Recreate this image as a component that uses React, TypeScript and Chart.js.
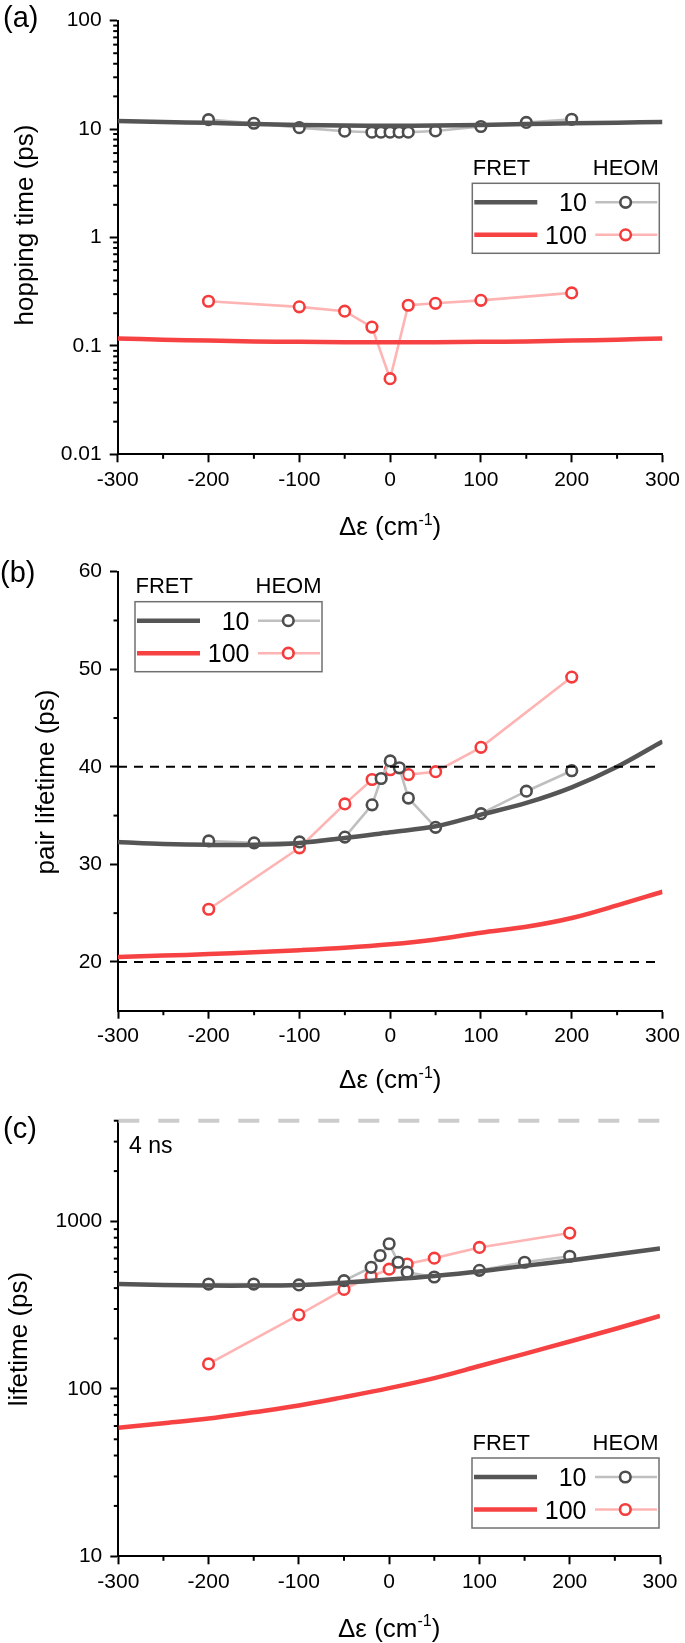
import React, { useEffect, useRef } from 'react';
import { Chart, registerables } from 'chart.js';

Chart.register(...registerables);

const W = 685;
const H = 1643;
const FONT = '"Liberation Sans", Arial, sans-serif';

// ---------- shared x positions ----------
const fretX = [-300, -250, -200, -150, -100, -50, 0, 50, 100, 150, 200, 250, 300];
const heom10X = [-200, -150, -100, -50, -20, -10, 0, 10, 20, 50, 100, 150, 200];
const heom100X = [-200, -100, -50, -20, 0, 20, 50, 100, 200];
const xMajorTicks = [-300, -200, -100, 0, 100, 200, 300];
const xMinorTicks = [-250, -150, -50, 50, 150, 250];

// ---------- panel (a): hopping time ----------
const aFret10 = [11.85, 11.6, 11.4, 11.1, 10.9, 10.75, 10.7, 10.75, 10.9, 11.1, 11.3, 11.45, 11.6];
const aFret100 = [0.117, 0.114, 0.112, 0.11, 0.109, 0.108, 0.108, 0.108, 0.109, 0.11, 0.112, 0.114, 0.117];
const aHeom10 = [12.2, 11.3, 10.3, 9.55, 9.35, 9.35, 9.35, 9.35, 9.35, 9.6, 10.55, 11.5, 12.3];
const aHeom100 = [0.258, 0.229, 0.209, 0.149, 0.0498, 0.237, 0.247, 0.263, 0.308];
const aYMajor = [0.01, 0.1, 1, 10, 100];
const aYMinor = [
  0.02, 0.03, 0.04, 0.05, 0.06, 0.07, 0.08, 0.09,
  0.2, 0.3, 0.4, 0.5, 0.6, 0.7, 0.8, 0.9,
  2, 3, 4, 5, 6, 7, 8, 9,
  20, 30, 40, 50, 60, 70, 80, 90,
];

// ---------- panel (b): pair lifetime ----------
const bFret10 = [32.3, 32.1, 32.0, 32.0, 32.2, 32.7, 33.3, 33.9, 35.1, 36.3, 37.9, 40.0, 42.6];
const bFret100 = [20.5, 20.65, 20.8, 21.0, 21.2, 21.45, 21.8, 22.3, 23.0, 23.6, 24.5, 25.8, 27.2];
const bHeom10 = [32.4, 32.2, 32.3, 32.8, 36.1, 38.8, 40.6, 39.9, 36.8, 33.8, 35.2, 37.5, 39.6];
const bHeom100 = [25.4, 31.7, 36.2, 38.7, 39.7, 39.2, 39.5, 42.0, 49.2];
const bRefX = [-300, 295];
const bRef40 = [40, 40];
const bRef20 = [20, 20];
const bYMajor = [20, 30, 40, 50, 60];
const bYMinor = [25, 35, 45, 55];

// ---------- panel (c): lifetime ----------
const cFret10 = [423, 418, 414, 414, 418, 431, 450, 473, 503, 543, 585, 635, 689];
const cFret100 = [58.6, 62.3, 66.5, 72.5, 79.5, 89.3, 101, 116, 137, 162, 192, 228, 273];
const cHeom10 = [423, 423, 418, 443, 532, 626, 736, 571, 498, 466, 511, 571, 620];
const cHeom100 = [141, 277, 393, 471, 519, 557, 604, 700, 853];
const cRefX = [-300, 300];
const cRef4ns = [4000, 4000];
const cYMajor = [10, 100, 1000];
const cYMinor = [20, 30, 40, 50, 60, 70, 80, 90, 200, 300, 400, 500, 600, 700, 800, 900, 2000, 3000, 4000];

// ---------- colours ----------
const C_FRET10 = '#555555';
const C_FRET100 = '#f64242';
const C_HEOM10_LINE = '#bfbfbf';
const C_HEOM10_MARK = '#4d4d4d';
const C_HEOM100_LINE = '#ffb4b4';
const C_HEOM100_MARK = '#f43c3c';

const pts = (xs: number[], ys: number[]) => xs.map((x, i) => ({ x, y: ys[i] }));

const fretDs = (ys: number[], color: string) => ({
  type: 'line',
  data: pts(fretX, ys),
  borderColor: color,
  borderWidth: 4.5,
  pointRadius: 0,
  pointHoverRadius: 0,
  tension: 0.35,
  fill: false,
});

const heomDs = (xs: number[], ys: number[], line: string, mark: string) => ({
  type: 'line',
  data: pts(xs, ys),
  borderColor: line,
  borderWidth: 2.6,
  pointRadius: 5.3,
  pointHoverRadius: 5.3,
  pointBorderWidth: 2.6,
  pointBorderColor: mark,
  pointBackgroundColor: '#ffffff',
  fill: false,
});

const refDs = (xs: number[], ys: number[], color: string, width: number, dash: number[]) => ({
  type: 'line',
  data: pts(xs, ys),
  borderColor: color,
  borderWidth: width,
  borderDash: dash,
  pointRadius: 0,
  pointHoverRadius: 0,
  fill: false,
  clip: false,
});

type Panel = {
  key: string;
  area: { l: number; r: number; t: number; b: number };
  yType: 'logarithmic' | 'linear';
  yMin: number;
  yMax: number;
  yMajor: number[];
  yMinor: number[];
  yTitle: string;
  yTitleX: number;
  yTitleY: number;
  xTitleBase: number;
  label: string;
  labelX: number;
  labelBase: number;
  legendL: number;
  legendT: number;
  note?: { text: string; x: number; y: number };
  datasets: any[];
};

const panels: Panel[] = [
  {
    key: 'a',
    area: { l: 117.7, r: 664, t: 15, b: 454.3 },
    yType: 'logarithmic',
    yMin: 0.01,
    yMax: 100,
    yMajor: aYMajor,
    yMinor: aYMinor,
    yTitle: 'hopping time (ps)',
    yTitleX: 33,
    yTitleY: 225,
    xTitleBase: 535,
    label: '(a)',
    labelX: 3,
    labelBase: 26.7,
    legendL: 472.3,
    legendT: 183.3,
    datasets: [
      fretDs(aFret10, C_FRET10),
      fretDs(aFret100, C_FRET100),
      heomDs(heom10X, aHeom10, C_HEOM10_LINE, C_HEOM10_MARK),
      heomDs(heom100X, aHeom100, C_HEOM100_LINE, C_HEOM100_MARK),
    ],
  },
  {
    key: 'b',
    area: { l: 118, r: 662.7, t: 571.7, b: 1010.7 },
    yType: 'linear',
    yMin: 15,
    yMax: 60,
    yMajor: bYMajor,
    yMinor: bYMinor,
    yTitle: 'pair lifetime (ps)',
    yTitleX: 54,
    yTitleY: 782,
    xTitleBase: 1088,
    label: '(b)',
    labelX: 0,
    labelBase: 581.7,
    legendL: 135,
    legendT: 601.7,
    datasets: [
      refDs(bRefX, bRef40, '#000000', 2, [9, 7]),
      refDs(bRefX, bRef20, '#000000', 2, [9, 7]),
      fretDs(bFret10, C_FRET10),
      fretDs(bFret100, C_FRET100),
      heomDs(heom10X, bHeom10, C_HEOM10_LINE, C_HEOM10_MARK),
      heomDs(heom100X, bHeom100, C_HEOM100_LINE, C_HEOM100_MARK),
    ],
  },
  {
    key: 'c',
    area: { l: 118.3, r: 660, t: 1120.7, b: 1556.3 },
    yType: 'logarithmic',
    yMin: 10,
    yMax: 4000,
    yMajor: cYMajor,
    yMinor: cYMinor,
    yTitle: 'lifetime (ps)',
    yTitleX: 27,
    yTitleY: 1339,
    xTitleBase: 1636.5,
    label: '(c)',
    labelX: 3,
    labelBase: 1138,
    legendL: 472,
    legendT: 1458,
    note: { text: '4 ns', x: 129, y: 1153 },
    datasets: [
      refDs(cRefX, cRef4ns, '#cccccc', 4, [21, 19]),
      fretDs(cFret10, C_FRET10),
      fretDs(cFret100, C_FRET100),
      heomDs(heom10X, cHeom10, C_HEOM10_LINE, C_HEOM10_MARK),
      heomDs(heom100X, cHeom100, C_HEOM100_LINE, C_HEOM100_MARK),
    ],
  },
];

const legendRows = [
  { num: '10', fret: C_FRET10, line: C_HEOM10_LINE, mark: C_HEOM10_MARK },
  { num: '100', fret: C_FRET100, line: C_HEOM100_LINE, mark: C_HEOM100_MARK },
];

function drawLegend(ctx: CanvasRenderingContext2D, L: number, T: number) {
  const bw = 187;
  const bh = 70;
  ctx.save();
  ctx.fillStyle = '#ffffff';
  ctx.fillRect(L, T, bw, bh);
  ctx.strokeStyle = '#707070';
  ctx.lineWidth = 1.5;
  ctx.strokeRect(L, T, bw, bh);

  ctx.fillStyle = '#000';
  ctx.font = `22px ${FONT}`;
  ctx.textBaseline = 'alphabetic';
  ctx.textAlign = 'left';
  ctx.fillText('FRET', L + 0.5, T - 8.5);
  ctx.textAlign = 'right';
  ctx.fillText('HEOM', L + 186.5, T - 8.5);

  legendRows.forEach((row, i) => {
    const y = T + (i === 0 ? 19 : 51.5);
    ctx.strokeStyle = row.fret;
    ctx.lineWidth = 4.5;
    ctx.beginPath();
    ctx.moveTo(L + 2, y);
    ctx.lineTo(L + 65, y);
    ctx.stroke();

    ctx.fillStyle = '#000';
    ctx.font = `25px ${FONT}`;
    ctx.textAlign = 'right';
    ctx.textBaseline = 'alphabetic';
    ctx.fillText(row.num, L + 114.5, y + 9);

    ctx.strokeStyle = row.line;
    ctx.lineWidth = 2.6;
    ctx.beginPath();
    ctx.moveTo(L + 123, y);
    ctx.lineTo(L + 185, y);
    ctx.stroke();

    ctx.fillStyle = '#ffffff';
    ctx.strokeStyle = row.mark;
    ctx.lineWidth = 2.6;
    ctx.beginPath();
    ctx.arc(L + 153.3, y, 5.3, 0, Math.PI * 2);
    ctx.fill();
    ctx.stroke();
  });
  ctx.restore();
}

function decorPlugin(p: Panel) {
  return {
    id: 'decor' + p.key,
    afterDraw(chart: any) {
      const ctx: CanvasRenderingContext2D = chart.ctx;
      const { left, right, bottom } = chart.chartArea;
      const xs = chart.scales.x;
      const ys = chart.scales.y;
      ctx.save();
      // minor ticks
      ctx.strokeStyle = '#000';
      ctx.lineWidth = 2;
      p.yMinor.forEach((v) => {
        const y = ys.getPixelForValue(v);
        ctx.beginPath();
        ctx.moveTo(left - 4.5, y);
        ctx.lineTo(left, y);
        ctx.stroke();
      });
      xMinorTicks.forEach((v) => {
        const x = xs.getPixelForValue(v);
        ctx.beginPath();
        ctx.moveTo(x, bottom);
        ctx.lineTo(x, bottom + 4.5);
        ctx.stroke();
      });

      ctx.fillStyle = '#000';
      // panel label
      ctx.font = `29px ${FONT}`;
      ctx.textAlign = 'left';
      ctx.textBaseline = 'alphabetic';
      ctx.fillText(p.label, p.labelX, p.labelBase);

      // y title
      ctx.save();
      ctx.translate(p.yTitleX, p.yTitleY);
      ctx.rotate(-Math.PI / 2);
      ctx.font = `26px ${FONT}`;
      ctx.textAlign = 'center';
      ctx.textBaseline = 'alphabetic';
      ctx.fillText(p.yTitle, 0, 0);
      ctx.restore();

      // x title with superscript
      const main = 'Δε (cm';
      const sup = '-1';
      const close = ')';
      ctx.font = `26px ${FONT}`;
      const w1 = ctx.measureText(main).width;
      const w3 = ctx.measureText(close).width;
      ctx.font = `16px ${FONT}`;
      const w2 = ctx.measureText(sup).width;
      const cx = (left + right) / 2;
      let x0 = cx - (w1 + w2 + w3) / 2;
      ctx.textAlign = 'left';
      ctx.font = `26px ${FONT}`;
      ctx.fillText(main, x0, p.xTitleBase);
      x0 += w1;
      ctx.font = `16px ${FONT}`;
      ctx.fillText(sup, x0, p.xTitleBase - 10.5);
      x0 += w2;
      ctx.font = `26px ${FONT}`;
      ctx.fillText(close, x0, p.xTitleBase);

      if (p.note) {
        ctx.font = `23px ${FONT}`;
        ctx.fillText(p.note.text, p.note.x, p.note.y);
      }
      ctx.restore();

      drawLegend(ctx, p.legendL, p.legendT);
    },
  };
}

function makeConfig(p: Panel): any {
  const tickFont = { size: 21, family: FONT };
  return {
    type: 'line',
    data: { datasets: p.datasets },
    options: {
      animation: false,
      responsive: false,
      devicePixelRatio: 1,
      events: [],
      layout: { padding: { left: 0, top: p.area.t, right: W - p.area.r, bottom: 0 } },
      plugins: { legend: { display: false }, tooltip: { enabled: false }, title: { display: false } },
      scales: {
        x: {
          type: 'linear',
          min: -300,
          max: 300,
          afterBuildTicks: (s: any) => {
            s.ticks = xMajorTicks.map((v) => ({ value: v }));
          },
          afterFit: (s: any) => {
            s.height = H - p.area.b;
          },
          ticks: {
            autoSkip: false,
            maxRotation: 0,
            padding: 5,
            color: '#000',
            font: tickFont,
            callback: (v: number) => String(v),
          },
          grid: { display: true, drawOnChartArea: false, drawTicks: true, tickLength: 8, tickWidth: 2, tickColor: '#000' },
          border: { display: true, color: '#000', width: 2 },
          title: { display: false },
        },
        y: {
          type: p.yType,
          min: p.yMin,
          max: p.yMax,
          afterBuildTicks: (s: any) => {
            s.ticks = p.yMajor.map((v) => ({ value: v }));
          },
          afterFit: (s: any) => {
            s.width = p.area.l;
          },
          ticks: {
            autoSkip: false,
            padding: 8,
            color: '#000',
            font: tickFont,
            callback: (v: number) => String(v),
          },
          grid: { display: true, drawOnChartArea: false, drawTicks: true, tickLength: 8, tickWidth: 2, tickColor: '#000' },
          border: { display: true, color: '#000', width: 2 },
          title: { display: false },
        },
      },
    },
    plugins: [decorPlugin(p)],
  };
}

function PanelChart({ p }: { p: Panel }) {
  const ref = useRef<HTMLCanvasElement>(null);
  useEffect(() => {
    const chart = new Chart(ref.current as HTMLCanvasElement, makeConfig(p));
    return () => chart.destroy();
  }, [p]);
  return (
    <canvas
      ref={ref}
      width={W}
      height={H}
      style={{ position: 'absolute', left: 0, top: 0, width: W, height: H }}
    />
  );
}

export default function App() {
  return (
    <div style={{ position: 'absolute', left: 0, top: 0, width: W, height: H, background: '#ffffff' }}>
      {panels.map((p) => (
        <PanelChart key={p.key} p={p} />
      ))}
    </div>
  );
}
